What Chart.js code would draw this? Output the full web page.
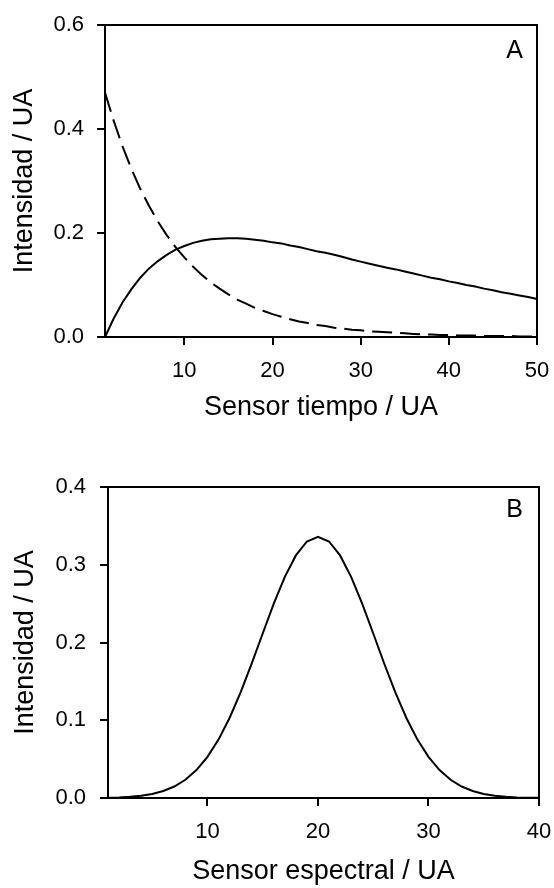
<!DOCTYPE html>
<html>
<head>
<meta charset="utf-8">
<script src="https://cdn.jsdelivr.net/npm/chart.js@4.4.1/dist/chart.umd.min.js"></script>
<style>
    body { margin: 0; background: #fff; }
    #wrap { position: relative; width: 554px; height: 888px; }
    canvas { position: absolute; left: 0; }
</style>
</head>
<body>
<div id="wrap">
    <canvas id="chartA" width="554" height="440" style="top:0"></canvas>
    <canvas id="chartB" width="554" height="448" style="top:440px"></canvas>
</div>
<script>
// panel A: time sensor
const sensorTiempo = [1, 2, 3, 4, 5, 6, 7, 8, 9, 10, 11, 12, 13, 14, 15, 16, 17, 18, 19, 20,
    21, 22, 23, 24, 25, 26, 27, 28, 29, 30, 31, 32, 33, 34, 35, 36, 37, 38, 39, 40,
    41, 42, 43, 44, 45, 46, 47, 48, 49, 50];
const tiempoContinua = [0, 0.036, 0.067, 0.092, 0.114, 0.132, 0.146, 0.158, 0.168, 0.175,
    0.181, 0.185, 0.188, 0.189, 0.190, 0.190, 0.189, 0.187, 0.185, 0.182,
    0.180, 0.176, 0.173, 0.169, 0.165, 0.162, 0.158, 0.154, 0.149, 0.145,
    0.141, 0.137, 0.133, 0.130, 0.126, 0.122, 0.118, 0.114, 0.111, 0.107,
    0.104, 0.100, 0.097, 0.093, 0.090, 0.086, 0.083, 0.080, 0.077, 0.073];
const tiempoDiscontinua = [0.470, 0.415, 0.366, 0.323, 0.285, 0.252, 0.222, 0.196, 0.173, 0.153,
    0.135, 0.119, 0.105, 0.093, 0.082, 0.072, 0.064, 0.056, 0.050, 0.044,
    0.039, 0.034, 0.030, 0.027, 0.023, 0.021, 0.018, 0.016, 0.014, 0.013,
    0.011, 0.010, 0.009, 0.008, 0.007, 0.006, 0.005, 0.005, 0.004, 0.004,
    0.003, 0.003, 0.003, 0.002, 0.002, 0.002, 0.002, 0.001, 0.001, 0.001];
const xTicksA = [10, 20, 30, 40, 50];
const yTicksA = [0, 0.2, 0.4, 0.6];

// panel B: spectral sensor
const sensorEspectral = [1, 2, 3, 4, 5, 6, 7, 8, 9, 10, 11, 12, 13, 14, 15, 16, 17, 18, 19, 20,
    21, 22, 23, 24, 25, 26, 27, 28, 29, 30, 31, 32, 33, 34, 35, 36, 37, 38, 39, 40];
const espectro = [0.0004, 0.0008, 0.0016, 0.0030, 0.0052, 0.0090, 0.0148, 0.0234, 0.0359, 0.0529,
    0.0751, 0.1029, 0.1358, 0.1727, 0.2116, 0.2500, 0.2845, 0.3120, 0.3299, 0.3360,
    0.3299, 0.3120, 0.2845, 0.2500, 0.2116, 0.1727, 0.1358, 0.1029, 0.0751, 0.0529,
    0.0359, 0.0234, 0.0148, 0.0090, 0.0052, 0.0030, 0.0016, 0.0008, 0.0004, 0.0002];
const xTicksB = [10, 20, 30, 40];
const yTicksB = [0, 0.1, 0.2, 0.3, 0.4];

const FONT = "'Liberation Sans', Arial, sans-serif";

function toPoints(xs, ys) {
    return xs.map((x, i) => ({ x: x, y: ys[i] }));
}

// top/right frame lines plus the panel letter
const framePlugin = {
    id: 'frame',
    afterDraw(chart, args, opts) {
        const { ctx, chartArea: a } = chart;
        ctx.save();
        ctx.strokeStyle = '#000';
        ctx.lineWidth = 2;
        ctx.beginPath();
        ctx.moveTo(a.left - 1, a.top);
        ctx.lineTo(a.right, a.top);
        ctx.lineTo(a.right, a.bottom);
        ctx.stroke();
        ctx.fillStyle = '#000';
        ctx.font = '25px ' + FONT;
        ctx.textAlign = 'right';
        ctx.textBaseline = 'top';
        ctx.fillText(opts.letter, a.right - opts.dx, a.top + opts.dy);
        ctx.restore();
    }
};

function makeChart(canvas, cfg) {
    return new Chart(canvas, {
        type: 'line',
        data: { datasets: cfg.datasets },
        plugins: [framePlugin],
        options: {
            responsive: false,
            animation: false,
            events: [],
            layout: {
                padding: { left: 0, right: cfg.padRight, top: cfg.padTop, bottom: 0 }
            },
            elements: {
                point: { radius: 0 },
                line: { tension: 0, borderWidth: 2, borderColor: '#000' }
            },
            plugins: {
                legend: { display: false },
                tooltip: { enabled: false },
                frame: { letter: cfg.letter, dx: cfg.letterDx, dy: cfg.letterDy }
            },
            scales: {
                x: {
                    type: 'linear',
                    min: cfg.xMin,
                    max: cfg.xMax,
                    afterBuildTicks: (s) => { s.ticks = cfg.xTicks.map(v => ({ value: v })); },
                    afterFit: (s) => {
                        s.height = cfg.xHeight;
                        s.paddingLeft = 0;
                        s.paddingRight = 0;
                    },
                    grid: {
                        drawOnChartArea: false,
                        drawTicks: true,
                        tickLength: 8,
                        lineWidth: 2,
                        color: '#000'
                    },
                    border: { display: true, color: '#000', width: 2 },
                    ticks: {
                        color: '#000',
                        padding: 13,
                        maxRotation: 0,
                        font: { family: FONT, size: 22 },
                        callback: (v) => String(v)
                    },
                    title: {
                        display: true,
                        text: cfg.xTitle,
                        color: '#000',
                        font: { family: FONT, size: 27 },
                        padding: { top: 0, bottom: cfg.xTitlePad }
                    }
                },
                y: {
                    min: cfg.yMin,
                    max: cfg.yMax,
                    afterBuildTicks: (s) => { s.ticks = cfg.yTicks.map(v => ({ value: v })); },
                    afterFit: (s) => {
                        s.width = cfg.yWidth;
                        s.paddingTop = 0;
                        s.paddingBottom = 0;
                    },
                    grid: {
                        drawOnChartArea: false,
                        drawTicks: true,
                        tickLength: 8,
                        lineWidth: 2,
                        color: '#000'
                    },
                    border: { display: true, color: '#000', width: 2 },
                    ticks: {
                        color: '#000',
                        padding: cfg.yTickPad,
                        font: { family: FONT, size: 22 },
                        callback: (v) => Number(v).toFixed(1)
                    },
                    title: {
                        display: true,
                        text: 'Intensidad / UA',
                        color: '#000',
                        font: { family: FONT, size: 27 },
                        padding: { top: cfg.yTitlePad, bottom: 0 }
                    }
                }
            }
        }
    });
}

makeChart(document.getElementById('chartA'), {
    datasets: [
        { data: toPoints(sensorTiempo, tiempoContinua), clip: false },
        { data: toPoints(sensorTiempo, tiempoDiscontinua), borderDash: [20, 8], clip: false }
    ],
    xMin: 1, xMax: 50, xTicks: xTicksA,
    yMin: 0, yMax: 0.6, yTicks: yTicksA,
    xTitle: 'Sensor tiempo / UA',
    padTop: 25, padRight: 17,
    xHeight: 103, xTitlePad: 16,
    yWidth: 105, yTickPad: 13, yTitlePad: 8,
    letter: 'A', letterDx: 14, letterDy: 14
});

makeChart(document.getElementById('chartB'), {
    datasets: [
        { data: toPoints(sensorEspectral, espectro), clip: false }
    ],
    xMin: 1, xMax: 40, xTicks: xTicksB,
    yMin: 0, yMax: 0.4, yTicks: yTicksB,
    xTitle: 'Sensor espectral / UA',
    padTop: 47, padRight: 15,
    xHeight: 90, xTitlePad: 0,
    yWidth: 108, yTickPad: 14, yTitlePad: 9,
    letter: 'B', letterDx: 16, letterDy: 11
});
</script>
</body>
</html>
